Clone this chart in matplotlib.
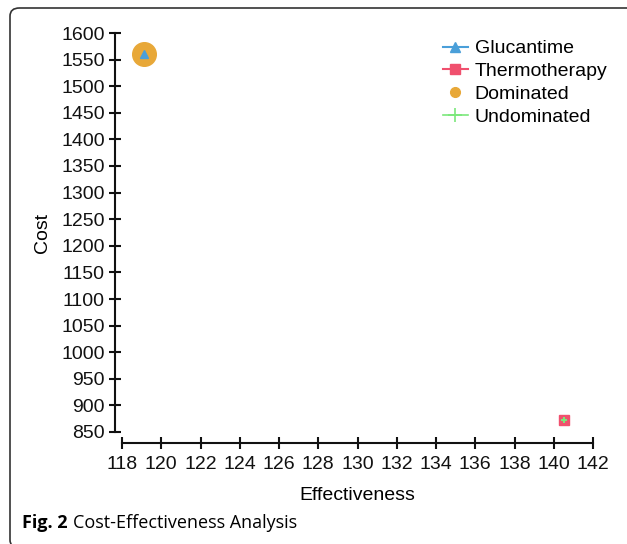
import matplotlib.pyplot as plt
from matplotlib.lines import Line2D
from matplotlib.patches import FancyBboxPatch

strategies = ['Glucantime', 'Thermotherapy']
effectiveness = [119.1, 140.5]
cost = [1561, 872]
dominated = [True, False]
x_ticks = list(range(118, 143, 2))
y_ticks = list(range(850, 1601, 50))

colors = {'Glucantime': '#4a9fd9', 'Thermotherapy': '#f0506e',
          'Dominated': '#e8a838', 'Undominated': '#7be87b'}
markers = {'Glucantime': '^', 'Thermotherapy': 's'}

plt.rcParams['font.family'] = ['Liberation Sans', 'DejaVu Sans']

fig = plt.figure(figsize=(6.27, 5.44), dpi=100)
W, H = 627, 544
ax = fig.add_axes([122 / W, (H - 432) / H, 471 / W, 399 / H])

# dominated / undominated overlay markers
for e, c, d in zip(effectiveness, cost, dominated):
    if d:
        ax.plot(e, c, 'o', ms=17, color=colors['Dominated'], zorder=2)
for s, e, c in zip(strategies, effectiveness, cost):
    ax.plot(e, c, markers[s], ms=6 if s == 'Glucantime' else 7,
            color=colors[s], zorder=3, linestyle='none')
for e, c, d in zip(effectiveness, cost, dominated):
    if not d:
        ax.plot(e, c, '+', ms=5, mew=1.5, color=colors['Undominated'], zorder=4)

ax.set_xlim(118, 142)
ax.set_ylim(850, 1600)
ax.set_xticks(x_ticks)
ax.set_yticks(y_ticks)
for sp in ['top', 'right']:
    ax.spines[sp].set_visible(False)
ax.spines['left'].set_position(('outward', 5))
ax.spines['bottom'].set_position(('outward', 8))
for sp in ['left', 'bottom']:
    ax.spines[sp].set_linewidth(1.5)
    ax.spines[sp].set_color('#111111')
ax.tick_params(direction='inout', length=9, width=1.5, labelsize=14,
               colors='#111111', pad=3)
ax.tick_params(axis='x', pad=5)
ax.set_xlabel('Effectiveness', fontsize=14, labelpad=10)
ax.set_ylabel('Cost', fontsize=14, labelpad=7)

handles = [
    Line2D([], [], color=colors['Glucantime'], marker='^', ms=7, lw=1.5),
    Line2D([], [], color=colors['Thermotherapy'], marker='s', ms=7, lw=1.5),
    Line2D([], [], color=colors['Dominated'], marker='o', ms=7, lw=0),
    Line2D([], [], color=colors['Undominated'], marker='+', ms=10, mew=1.2, lw=1.2),
]
ax.legend(handles, ['Glucantime', 'Thermotherapy', 'Dominated', 'Undominated'],
          loc='upper right', bbox_to_anchor=(1.068, 1.027), frameon=False,
          fontsize=14, handlelength=1.3, handletextpad=0.35, labelspacing=0.27)

# panel border
border = FancyBboxPatch((10 / W, -4 / H), 628 / W, (H - 8 + 4) / H,
                        boxstyle='round,pad=0,rounding_size=0.015',
                        transform=fig.transFigure, fill=False,
                        edgecolor='#333333', lw=1.2)
fig.patches.append(border)

cap_font = ['Open Sans', 'DejaVu Sans']
t1 = fig.text(22 / W, (H - 523) / H, 'Fig. 2', fontsize=13, fontweight='bold',
              family=cap_font, va='center')
fig.canvas.draw()
bb = t1.get_window_extent()
fig.text((bb.x1 + 5) / W, (H - 523) / H, 'Cost-Effectiveness Analysis',
         fontsize=13, family=cap_font, va='center')

fig.savefig('out.png', dpi=100)
